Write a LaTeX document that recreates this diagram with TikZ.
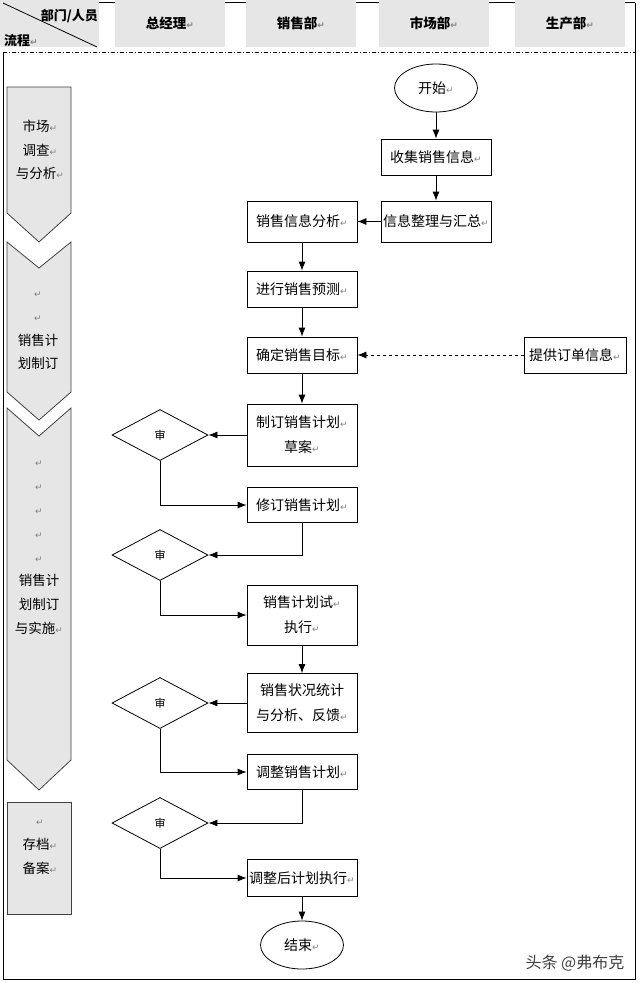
\documentclass[tikz,border=0pt]{standalone}
\usepackage{fontspec}
\usepackage{xcolor}
\usepackage{tikz}
\usetikzlibrary{shapes.geometric, arrows.meta, positioning}
\setmainfont{Noto Sans CJK SC}
\newfontfamily\symfont{DejaVu Sans}
\definecolor{cellgrey}{HTML}{E6E6E6}
\newcommand{\ret}{{\symfont\fontsize{9}{9}\selectfont\color{gray}↵}}

\begin{document}
\begin{tikzpicture}[
    x=1pt, y=-1pt,
    head/.style    = {fill=cellgrey, minimum width=110pt, minimum height=47pt, inner sep=0pt, font=\bfseries\fontsize{13.5}{16}\selectfont},
    headtxt/.style = {inner sep=1pt, font=\bfseries\fontsize{13}{16}\selectfont},
    stage/.style   = {draw=black!75, fill=cellgrey, line width=0.8pt},
    stagetxt/.style= {align=center, inner sep=0pt, font=\fontsize{13.5}{23.8}\selectfont},
    box/.style     = {draw, fill=white, line width=0.8pt, minimum width=110pt, minimum height=36pt, inner sep=1pt, align=center, font=\fontsize{14}{25}\selectfont},
    term/.style    = {draw, ellipse, line width=0.8pt, minimum width=83pt, minimum height=48pt, inner sep=0pt, font=\fontsize{14}{16}\selectfont},
    check/.style   = {draw, diamond, line width=0.8pt, minimum width=96pt, minimum height=51pt, inner sep=0pt, font=\fontsize{11}{12}\selectfont},
    arr/.style     = {-{Latex[length=9pt, width=7pt]}, line width=0.8pt},
    >=Latex
]
\useasboundingbox (0,0) rectangle (640,983);

% ---- Header row ----
\draw[line width=0.8pt] (99,2.5) -- (635,2.5);
\fill[cellgrey] (0,0) rectangle (99,47);
\draw[line width=0.8pt] (3,3) -- (97,47);
\node[headtxt, anchor=east] (who)  at (99,16) {部门/人员};
\node[headtxt, anchor=west] (flow) at (3,41)  {流程\ret};
\node[head] (gm)    at (170,23.5) {总经理\ret};
\node[head] (sales) at (301,23.5) {销售部\ret};
\node[head] (mkt)   at (434,23.5) {市场部\ret};
\node[head] (prod)  at (570,23.5) {生产部\ret};

% ---- Frame ----
\draw[line width=0.8pt] (3,52) -- (3,979) -- (635,979) -- (635,2.5);
\draw[line width=0.8pt, dash pattern=on 4pt off 2pt on 1pt off 2pt] (3,52) -- (635,52);

% ---- Stages (left column) ----
\draw[stage] (7,87) -- (71,87) -- (71,213) -- (39,242) -- (7,213) -- cycle;
\draw[stage] (7,242) -- (39,268) -- (71,242) -- (71,392) -- (39,420) -- (7,392) -- cycle;
\draw[stage] (7,408) -- (39,436) -- (71,408) -- (71,760) -- (39,790) -- (7,760) -- cycle;
\draw[stage] (7,802) rectangle (71,914);

\node[stagetxt] (st1) at (40,150) {市场\ret\\调查\ret\\与分析\ret};
\node[stagetxt] (st2) at (38,331) {\ret\\\ret\\销售计\\划制订};
\node[stagetxt] (st3) at (39,548) {\ret\\\ret\\\ret\\\ret\\\ret\\销售计\\划制订\\与实施\ret};
\node[stagetxt] (st4) at (40,847) {\ret\\存档\ret\\备案\ret};

% ---- Flow ----
\node[term] (start)    at (436,88)    {开始\ret};
\node[box]  (collect)  at (436,157)   {收集销售信息\ret};
\node[box, minimum height=41pt] (sort)    at (436,221.5) {信息整理与汇总\ret};
\node[box, minimum height=41pt] (analyse) at (302,221.5) {销售信息分析\ret};
\node[box]  (forecast) at (302,289)   {进行销售预测\ret};
\node[box]  (target)   at (302,355)   {确定销售目标\ret};
\node[box, minimum width=102pt] (order)   at (575,355)   {提供订单信息\ret};
\node[box, minimum height=62pt] (draft)   at (302,435)   {制订销售计划\ret\\草案\ret};
\node[check] (chk1)    at (160,435)   {审};
\node[box, minimum height=35pt] (revise)  at (302,505)   {修订销售计划\ret};
\node[check] (chk2)    at (160,555)   {审};
\node[box, minimum height=60pt] (trial)   at (302,615)   {销售计划试\ret\\执行\ret};
\node[box, minimum height=59pt] (stats)   at (302,703)   {销售状况统计\\与分析、反馈\ret};
\node[check] (chk3)    at (160,703)   {审};
\node[box, minimum height=35pt] (adjust)  at (302,772)   {调整销售计划\ret};
\node[check] (chk4)    at (160,823)   {审};
\node[box, minimum height=37pt] (final)   at (302,878)   {调整后计划执行\ret};
\node[term] (end)      at (302,945)   {结束\ret};

% ---- Arrows ----
\draw[arr] (start)    -- (collect);
\draw[arr] (collect)  -- (sort);
\draw[arr] (sort)     -- (analyse);
\draw[arr] (analyse)  -- (forecast);
\draw[arr] (forecast) -- (target);
\draw[arr, dashed]    (order) -- (target);
\draw[arr] (target)   -- (draft);
\draw[arr] (draft)    -- (chk1);
\draw[arr] (chk1.south)   |- (revise.west);
\draw[arr] (revise.south) |- (chk2.east);
\draw[arr] (chk2.south)   |- (trial.west);
\draw[arr] (trial)    -- (stats);
\draw[arr] (stats)    -- (chk3);
\draw[arr] (chk3.south)   |- (adjust.west);
\draw[arr] (adjust.south) |- (chk4.east);
\draw[arr] (chk4.south)   |- (final.west);
\draw[arr] (final)    -- (end);

\node[font=\fontsize{16}{16}\selectfont, text=black!75] (mark) at (575,963) {头条 @弗布克};

\end{tikzpicture}
\end{document}
